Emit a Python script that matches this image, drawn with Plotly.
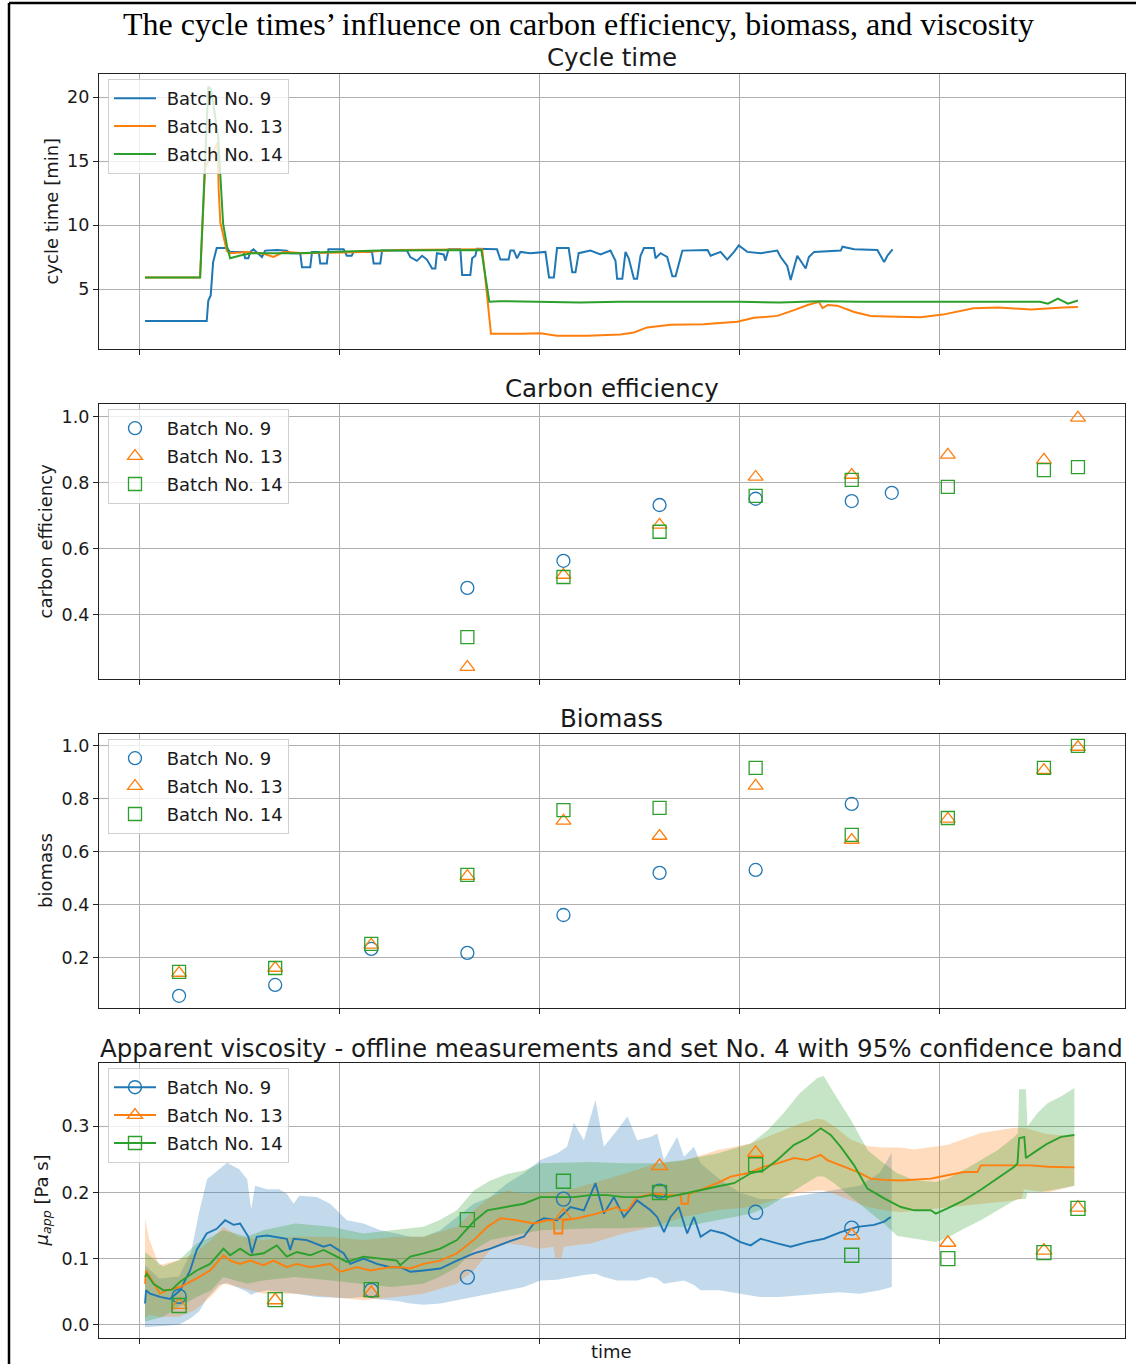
import plotly.graph_objects as go

W, H = 1136, 1364

# ---------------- data ----------------
batches = ["Batch No. 9", "Batch No. 13", "Batch No. 14"]
colors = ["#1f77b4", "#ff7f0e", "#2ca02c"]
fills = ["rgba(31,119,180,0.27)", "rgba(255,127,14,0.27)", "rgba(44,160,44,0.27)"]
symbols = ["circle-open", "triangle-up-open", "square-open"]

# cycle time [min]  (time [h], value)
ct9 = [(1.5, 2.5), (16.9, 2.5), (17.3, 4.1), (17.9, 4.5), (18.5, 7.1), (19.4, 8.2), (21.9, 8.2),
       (22.75, 7.9), (26.1, 7.9), (26.5, 7.4), (27.3, 7.4), (27.75, 7.9), (28.6, 8.1), (30.7, 7.5),
       (31.5, 8.0), (34.4, 8.05), (36.9, 8.0), (37.75, 7.8), (40.25, 7.8), (40.7, 6.7), (42.75, 6.7),
       (43.2, 7.9), (44.9, 7.9), (45.25, 7.0), (46.9, 7.0), (47.3, 8.1), (51.1, 8.1), (51.9, 7.6),
       (53.1, 7.6), (53.6, 7.9), (58.2, 7.9), (58.6, 7.0), (60.25, 7.0), (60.7, 8.0), (66.9, 8.0),
       (67.75, 7.5), (69.4, 7.2), (70.7, 7.6), (71.9, 7.3), (73.2, 6.6), (74.0, 6.6), (74.4, 7.8),
       (76.1, 7.7), (76.5, 7.2), (77.3, 8.1), (80.25, 8.1), (80.7, 6.1), (82.75, 6.1), (83.2, 7.4),
       (84.0, 7.6), (84.4, 8.15), (89.4, 8.1), (90.25, 7.3), (92.3, 7.3), (92.75, 8.0), (93.6, 8.0),
       (94.4, 7.4), (95.25, 7.9), (97.75, 7.8), (100.25, 7.9), (101.5, 7.9), (102.4, 5.9), (103.6, 5.9),
       (104.4, 8.2), (107.3, 8.2), (108.2, 6.3), (109.0, 6.3), (109.8, 7.8), (112.75, 8.0), (115.25, 7.7),
       (117.75, 8.0), (119.0, 7.2), (119.4, 5.8), (120.7, 5.8), (121.5, 7.9), (122.3, 7.4), (123.6, 5.8),
       (124.4, 5.8), (125.25, 7.6), (126.1, 8.2), (128.6, 8.2), (129.0, 7.4), (130.25, 7.8), (131.9, 7.5),
       (133.2, 6.0), (134.0, 6.0), (135.7, 8.0), (142.0, 8.05), (142.75, 7.6), (145.25, 7.9), (146.9, 7.3),
       (148.6, 7.9), (149.8, 8.4), (151.9, 7.9), (155.25, 7.8), (159.4, 8.0), (160.25, 7.5), (161.9, 6.8),
       (162.75, 5.7), (163.6, 6.7), (164.4, 7.6), (166.5, 6.6), (167.3, 7.5), (168.6, 7.9), (175.25, 8.0),
       (175.7, 8.3), (178.6, 8.1), (184.4, 8.05), (185.7, 7.4), (186.1, 7.1), (186.9, 7.6), (188.2, 8.1)]
ct13 = [(1.5, 5.9), (15.25, 5.9), (16.5, 14.5), (18.5, 15.8), (19.6, 16.4), (19.9, 12.7), (20.3, 10.2),
        (21.9, 8.0), (22.75, 7.8), (26.9, 7.9), (31.1, 7.75), (33.6, 7.5), (36.1, 7.9), (41.1, 7.8),
        (47.75, 7.85), (56.1, 7.9), (64.4, 8.05), (72.75, 8.05), (81.1, 8.05), (85.7, 8.1), (86.1, 7.0),
        (87.3, 3.0), (87.9, 1.5), (95.25, 1.5), (100.25, 1.55), (104.4, 1.35), (112.0, 1.35),
        (120.25, 1.45), (123.6, 1.6), (126.9, 2.0), (132.75, 2.2), (141.0, 2.25), (145.25, 2.35),
        (149.4, 2.45), (153.6, 2.75), (159.4, 2.9), (163.6, 3.35), (167.0, 3.75), (169.8, 4.0),
        (170.7, 3.5), (172.0, 3.75), (174.4, 3.7), (178.6, 3.2), (182.75, 2.9), (186.9, 2.85),
        (195.25, 2.8), (200.75, 3.0), (208.4, 3.5), (214.5, 3.55), (222.75, 3.4), (230.75, 3.55),
        (234.5, 3.6)]
ct14 = [(1.5, 5.9), (15.25, 5.9), (17.3, 20.8), (18.0, 20.6), (19.75, 16.9), (21.0, 10.1), (22.0, 8.3),
        (22.75, 7.4), (25.0, 7.6), (28.0, 7.8), (40.0, 7.8), (47.5, 7.9), (60.0, 8.0), (85.5, 8.05),
        (86.0, 7.0), (87.5, 4.0), (90.0, 4.05), (100.0, 4.0), (110.0, 3.95), (120.0, 4.0), (130.0, 4.0),
        (140.0, 4.05), (150.0, 4.0), (160.0, 3.95), (170.0, 4.05), (180.0, 4.0), (190.0, 4.0),
        (200.0, 4.0), (210.0, 4.0), (220.0, 3.95), (225.0, 4.0), (227.0, 3.85), (229.5, 4.25),
        (232.0, 3.85), (234.5, 4.1)]

# carbon efficiency
ce9 = [(82, 0.482), (106, 0.564), (130, 0.733), (154, 0.752), (178, 0.745), (188, 0.770)]
ce13 = [(82, 0.242), (106, 0.521), (130, 0.673), (154, 0.818), (178, 0.824), (202, 0.885),
        (226, 0.870), (234.5, 0.997)]
ce14 = [(82, 0.333), (106, 0.515), (130, 0.652), (154, 0.761), (178, 0.809), (202, 0.788),
        (226, 0.839), (234.5, 0.848)]

# biomass
bm9 = [(10, 0.057), (34, 0.098), (58, 0.234), (82, 0.219), (106, 0.362), (130, 0.521), (154, 0.532),
       (178, 0.781)]
bm13 = [(10, 0.143), (34, 0.162), (58, 0.249), (82, 0.509), (106, 0.717), (130, 0.660), (154, 0.849),
        (178, 0.645), (202, 0.725), (226, 0.909), (234.5, 0.996)]
bm14 = [(10, 0.147), (34, 0.162), (58, 0.253), (82, 0.513), (106, 0.758), (130, 0.766), (154, 0.917),
        (178, 0.664), (202, 0.728), (226, 0.917), (234.5, 1.0)]

# apparent viscosity: offline measurements
vm9 = [(10, 0.043), (58, 0.052), (82, 0.072), (106, 0.19), (130, 0.202), (154, 0.17), (178, 0.146)]
vm13 = [(10, 0.03), (34, 0.037), (58, 0.048), (106, 0.165), (130, 0.24), (154, 0.26), (178, 0.135),
        (202, 0.124), (226, 0.112), (234.5, 0.177)]
vm14 = [(10, 0.029), (34, 0.038), (58, 0.053), (82, 0.159), (106, 0.217), (130, 0.2), (154, 0.242),
        (178, 0.105), (202, 0.1), (226, 0.109), (234.5, 0.176)]

# apparent viscosity: set No. 4 prediction (time, mean)
vp9 = [(1.5, 0.032), (1.75, 0.052), (2.75, 0.047), (5.25, 0.042), (7.75, 0.039), (10.25, 0.052),
       (12.75, 0.082), (14.4, 0.113), (16.9, 0.138), (19.4, 0.145), (21.5, 0.158), (23.6, 0.151),
       (25.25, 0.153), (27.3, 0.133), (28.2, 0.108), (29.4, 0.133), (31.9, 0.135), (34.4, 0.133),
       (36.9, 0.130), (37.75, 0.113), (38.6, 0.130), (41.9, 0.128), (46.1, 0.118), (47.75, 0.121),
       (51.1, 0.108), (52.75, 0.092), (56.1, 0.1), (59.4, 0.092), (62.75, 0.087), (65.25, 0.087),
       (67.75, 0.080), (71.1, 0.082), (75.25, 0.085), (79.4, 0.097), (83.6, 0.108), (87.75, 0.115),
       (92.0, 0.125), (96.1, 0.133), (98.6, 0.153), (101.1, 0.161), (104.4, 0.158), (107.75, 0.178),
       (111.1, 0.173), (114.0, 0.214), (116.1, 0.168), (118.6, 0.193), (121.1, 0.163), (124.4, 0.188),
       (127.75, 0.173), (129.4, 0.163), (131.1, 0.140), (132.75, 0.163), (134.8, 0.178), (136.9, 0.138),
       (138.6, 0.163), (140.25, 0.133), (142.75, 0.143), (146.1, 0.138), (150.25, 0.125),
       (152.75, 0.120), (155.25, 0.130), (159.4, 0.123), (162.75, 0.118), (166.9, 0.125),
       (171.1, 0.130), (175.25, 0.140), (179.4, 0.148), (183.6, 0.151), (186.1, 0.156), (187.75, 0.163)]
vp13 = [(1.5, 0.062), (1.75, 0.082), (2.75, 0.072), (5.25, 0.047), (6.9, 0.052), (10.25, 0.057),
        (14.4, 0.07), (17.75, 0.082), (21.1, 0.105), (22.75, 0.097), (25.25, 0.092), (27.75, 0.097),
        (31.1, 0.09), (33.6, 0.097), (36.9, 0.087), (39.4, 0.092), (42.75, 0.087), (47.75, 0.092),
        (50.25, 0.08), (54.4, 0.087), (57.75, 0.082), (62.75, 0.087), (65.25, 0.087), (67.75, 0.085),
        (71.1, 0.092), (75.25, 0.097), (79.4, 0.108), (83.6, 0.128), (87.0, 0.148), (90.25, 0.161),
        (94.4, 0.158), (98.6, 0.153), (101.9, 0.158), (103.6, 0.158), (103.75, 0.138), (105.7, 0.138),
        (105.9, 0.158), (109.4, 0.161), (114.4, 0.168), (119.4, 0.178), (120.25, 0.173), (122.0, 0.173),
        (124.4, 0.193), (128.6, 0.198), (132.75, 0.196), (135.25, 0.196), (135.5, 0.183), (137.1, 0.183),
        (137.3, 0.198), (140.25, 0.204), (144.4, 0.214), (147.75, 0.224), (151.9, 0.229), (156.1, 0.239),
        (159.4, 0.244), (163.6, 0.252), (166.9, 0.249), (170.25, 0.257), (171.9, 0.249), (175.25, 0.241),
        (179.4, 0.231), (182.75, 0.221), (186.1, 0.219), (190.25, 0.218), (193.6, 0.219), (197.75, 0.221),
        (201.9, 0.226), (206.0, 0.231), (209.4, 0.231), (210.25, 0.241), (214.4, 0.241), (218.6, 0.241),
        (222.75, 0.241), (226.9, 0.239), (233.6, 0.238)]
vp14 = [(1.5, 0.072), (1.9, 0.077), (3.6, 0.062), (6.1, 0.052), (8.2, 0.053), (10.25, 0.065),
        (14.4, 0.082), (17.75, 0.092), (21.1, 0.115), (22.75, 0.105), (25.25, 0.115), (27.75, 0.105),
        (31.1, 0.108), (34.4, 0.12), (36.9, 0.103), (39.4, 0.11), (42.75, 0.105), (46.1, 0.113),
        (49.4, 0.103), (51.9, 0.095), (56.1, 0.103), (60.25, 0.1), (64.4, 0.097), (65.25, 0.09),
        (67.75, 0.103), (71.1, 0.108), (75.25, 0.115), (79.4, 0.128), (83.6, 0.156), (87.0, 0.173),
        (92.0, 0.178), (96.1, 0.183), (100.25, 0.193), (104.4, 0.193), (108.6, 0.193), (112.75, 0.196),
        (116.9, 0.196), (121.1, 0.193), (125.25, 0.193), (127.75, 0.196), (131.9, 0.193), (136.1, 0.198),
        (140.25, 0.204), (144.4, 0.209), (148.6, 0.214), (152.75, 0.229), (156.1, 0.234), (159.4, 0.249),
        (163.6, 0.272), (166.9, 0.282), (170.25, 0.297), (172.75, 0.287), (175.25, 0.269), (178.6, 0.241),
        (181.9, 0.206), (186.1, 0.191), (190.25, 0.178), (193.6, 0.173), (197.75, 0.173), (199.0, 0.168),
        (201.9, 0.176), (206.0, 0.188), (210.25, 0.204), (214.4, 0.221), (218.6, 0.239), (219.4, 0.244),
        (219.8, 0.282), (221.1, 0.284), (221.5, 0.252), (224.4, 0.264), (226.9, 0.274), (230.25, 0.284),
        (233.6, 0.287)]

# 95% confidence bands (time, upper, lower)
vb9 = [(1.5, 0.09, -0.004), (5, 0.07, -0.002), (10, 0.073, 0.0), (13, 0.11, 0.01), (15, 0.17, 0.02),
       (17, 0.22, 0.04), (20, 0.235, 0.06), (22, 0.245, 0.063), (25, 0.235, 0.055), (27, 0.22, 0.05),
       (28, 0.175, 0.045), (29, 0.21, 0.048), (32, 0.205, 0.052), (35, 0.205, 0.05), (36.9, 0.198, 0.048),
       (38.6, 0.183, 0.047), (40, 0.195, 0.046), (44.4, 0.193, 0.042), (47.75, 0.183, 0.041),
       (51.9, 0.158, 0.04), (56.1, 0.153, 0.042), (60.25, 0.143, 0.038), (64.4, 0.138, 0.036),
       (67.75, 0.133, 0.032), (71.1, 0.133, 0.030), (75.25, 0.143, 0.032), (79.4, 0.163, 0.037),
       (83.6, 0.183, 0.042), (87.75, 0.193, 0.047), (92.0, 0.214, 0.052), (96.1, 0.229, 0.057),
       (100.25, 0.249, 0.067), (104.4, 0.259, 0.068), (106.9, 0.269, 0.07), (108.6, 0.305, 0.072),
       (111.1, 0.279, 0.075), (114.0, 0.34, 0.077), (116.1, 0.269, 0.072), (119.4, 0.294, 0.067),
       (122.0, 0.315, 0.067), (124.4, 0.279, 0.067), (127.75, 0.284, 0.072), (129.4, 0.289, 0.07),
       (131.1, 0.249, 0.062), (134.4, 0.284, 0.065), (136.1, 0.254, 0.067), (138.6, 0.269, 0.06),
       (140.25, 0.244, 0.052), (145, 0.22, 0.052), (150, 0.2, 0.047), (155, 0.19, 0.042), (160, 0.19, 0.042),
       (165, 0.195, 0.045), (170, 0.2, 0.047), (175, 0.205, 0.049), (180, 0.21, 0.047), (185, 0.23, 0.052),
       (188, 0.26, 0.057)]
vb13 = [(1.5, 0.16, 0.01), (2.5, 0.13, 0.015), (5, 0.09, 0.012), (10, 0.098, 0.012), (14, 0.108, 0.022),
        (18, 0.128, 0.043), (21, 0.148, 0.062), (25, 0.133, 0.057), (31, 0.128, 0.047), (39, 0.133, 0.047),
        (48, 0.133, 0.042), (56, 0.128, 0.037), (64, 0.133, 0.042), (71, 0.133, 0.047), (79.4, 0.148, 0.062),
        (83.6, 0.173, 0.082), (87.75, 0.193, 0.113), (92, 0.203, 0.123), (96, 0.198, 0.12), (100, 0.2, 0.115),
        (103.5, 0.202, 0.118), (104, 0.202, 0.1), (105.5, 0.202, 0.1), (106, 0.202, 0.118),
        (112.75, 0.213, 0.123), (121, 0.228, 0.138), (128.6, 0.243, 0.148), (136, 0.248, 0.163),
        (144.4, 0.264, 0.173), (152.75, 0.274, 0.178), (161, 0.294, 0.193), (165, 0.304, 0.2),
        (169.4, 0.312, 0.203), (171, 0.31, 0.203), (173.6, 0.3, 0.198), (177.75, 0.28, 0.188),
        (182, 0.27, 0.178), (186, 0.268, 0.173), (190.25, 0.268, 0.17), (193.6, 0.265, 0.173),
        (202, 0.272, 0.178), (210.25, 0.29, 0.183), (218.6, 0.298, 0.188), (220.5, 0.298, 0.19),
        (221, 0.298, 0.205), (226.9, 0.288, 0.2), (233.6, 0.285, 0.21)]
vb14 = [(1.5, 0.11, 0.005), (6, 0.088, 0.012), (10, 0.098, 0.027), (14.4, 0.123, 0.042), (18, 0.133, 0.052),
        (21, 0.143, 0.072), (27, 0.133, 0.062), (31, 0.143, 0.067), (39, 0.153, 0.072), (48, 0.148, 0.067),
        (56, 0.138, 0.062), (63, 0.143, 0.057), (71, 0.148, 0.062), (75, 0.158, 0.072), (79.4, 0.173, 0.087),
        (83.6, 0.203, 0.113), (87.75, 0.218, 0.128), (92, 0.228, 0.133), (96, 0.233, 0.138),
        (100.25, 0.244, 0.143), (112.75, 0.246, 0.146), (121, 0.244, 0.146), (129.4, 0.244, 0.148),
        (136, 0.249, 0.148), (144.4, 0.259, 0.158), (152.75, 0.274, 0.168), (157, 0.294, 0.178),
        (161, 0.32, 0.193), (165, 0.35, 0.208), (169.4, 0.373, 0.224), (171, 0.376, 0.224),
        (173.6, 0.35, 0.214), (177.75, 0.31, 0.193), (182, 0.264, 0.173), (186, 0.244, 0.153),
        (189.4, 0.229, 0.134), (193.6, 0.219, 0.13), (199, 0.216, 0.125), (202, 0.221, 0.132),
        (206, 0.234, 0.145), (210.25, 0.249, 0.158), (214.4, 0.264, 0.173), (218.6, 0.284, 0.188),
        (219.5, 0.29, 0.19), (219.8, 0.356, 0.19), (221.5, 0.356, 0.19), (221.9, 0.3, 0.2),
        (224.4, 0.32, 0.2), (226.9, 0.335, 0.203), (230.25, 0.345, 0.206), (233.6, 0.358, 0.21)]

x_ticks = [0, 50, 100, 150, 200]

# ---------------- figure ----------------
FONT = "DejaVu Sans"
TXT = "#1a1a1a"


def col(pairs, i):
    return [p[i] for p in pairs]


fig = go.Figure()

# panel geometry (pixels)
X0, X1 = 99, 1125
panels = [(74, 349), (404, 679), (734, 1008), (1063, 1338)]
yranges = [[0.3125, 21.8], [0.206, 1.039], [0.011, 1.045], [-0.0201, 0.3958]]
ytickvals = [[5, 10, 15, 20], [0.4, 0.6, 0.8, 1.0], [0.2, 0.4, 0.6, 0.8, 1.0], [0.0, 0.1, 0.2, 0.3]]

ax_common = dict(showgrid=True, gridcolor="#b0b0b0", gridwidth=1, zeroline=False,
                 showline=True, linecolor="#222222", linewidth=1.3, mirror=True,
                 ticks="outside", ticklen=5, tickwidth=1.2, tickcolor="#222222",
                 tickfont=dict(family=FONT, size=17.5, color=TXT))

layout = dict(width=W, height=H, margin=dict(l=0, r=0, t=0, b=0),
              paper_bgcolor="white", plot_bgcolor="white", showlegend=True)

for k, (top, bot) in enumerate(panels):
    sfx = "" if k == 0 else str(k + 1)
    layout["xaxis" + sfx] = dict(ax_common, domain=[X0 / W, X1 / W], range=[-10, 246.25],
                                 tickvals=x_ticks, showticklabels=False,
                                 anchor="y" + sfx)
    layout["yaxis" + sfx] = dict(ax_common, domain=[1 - bot / H, 1 - top / H], range=yranges[k],
                                 tickvals=ytickvals[k], anchor="x" + sfx,
                                 tickformat=".1f" if k > 0 else "d")

NB = "\u00a0"

# panel 1: cycle time lines
for i, (data, name, c) in enumerate(zip([ct9, ct13, ct14], batches, colors)):
    fig.add_trace(go.Scatter(x=col(data, 0), y=col(data, 1), mode="lines", name=NB + name,
                             line=dict(color=c, width=2), legend="legend", legendgroup="a%d" % i,
                             xaxis="x", yaxis="y"))

# panel 2: carbon efficiency
for i, (data, name, c, s) in enumerate(zip([ce9, ce13, ce14], batches, colors, symbols)):
    fig.add_trace(go.Scatter(x=col(data, 0), y=col(data, 1), mode="markers", name=NB + name,
                             marker=dict(symbol=s, color=c, size=13, line=dict(width=1.3, color=c)),
                             legend="legend2", legendgroup="b%d" % i, xaxis="x2", yaxis="y2"))

# panel 3: biomass
for i, (data, name, c, s) in enumerate(zip([bm9, bm13, bm14], batches, colors, symbols)):
    fig.add_trace(go.Scatter(x=col(data, 0), y=col(data, 1), mode="markers", name=NB + name,
                             marker=dict(symbol=s, color=c, size=13, line=dict(width=1.3, color=c)),
                             legend="legend3", legendgroup="c%d" % i, xaxis="x3", yaxis="y3"))

# panel 4: bands
for band, f in zip([vb9, vb13, vb14], fills):
    t = col(band, 0)
    up = col(band, 1)
    lo = col(band, 2)
    fig.add_trace(go.Scatter(x=t + t[::-1], y=up + lo[::-1], fill="toself", fillcolor=f,
                             line=dict(width=0), mode="lines", hoverinfo="skip",
                             showlegend=False, xaxis="x4", yaxis="y4"))
# panel 4: prediction lines
for data, c in zip([vp9, vp13, vp14], colors):
    fig.add_trace(go.Scatter(x=col(data, 0), y=col(data, 1), mode="lines",
                             line=dict(color=c, width=1.9), showlegend=False,
                             xaxis="x4", yaxis="y4"))
# panel 4: measurements
for data, c, s in zip([vm9, vm13, vm14], colors, symbols):
    fig.add_trace(go.Scatter(x=col(data, 0), y=col(data, 1), mode="markers",
                             marker=dict(symbol=s, color=c, size=14, line=dict(width=1.4, color=c)),
                             showlegend=False, xaxis="x4", yaxis="y4"))
# panel 4: legend entries (line + marker)
for i, (name, c, s) in enumerate(zip(batches, colors, symbols)):
    fig.add_trace(go.Scatter(x=[None], y=[None], mode="lines+markers", name=NB + name,
                             line=dict(color=c, width=2),
                             marker=dict(symbol=s, color=c, size=13, line=dict(width=1.4, color=c)),
                             legend="legend4", legendgroup="d%d" % i, xaxis="x4", yaxis="y4"))

leg_common = dict(xanchor="left", yanchor="top", bgcolor="rgba(255,255,255,0.8)",
                  bordercolor="#d0d0d0", borderwidth=1, itemwidth=42,
                  traceorder="grouped", tracegroupgap=1.5,
                  font=dict(family=FONT, size=18, color=TXT))
for k, (top, bot) in enumerate(panels):
    key = "legend" if k == 0 else "legend" + str(k + 1)
    layout[key] = dict(leg_common, x=108 / W, y=1 - (top + 5) / H)

# titles
ann = []
ann.append(dict(text="The cycle times’ influence on carbon efficiency, biomass, and viscosity",
                x=578 / W, y=1 - 24 / H, xref="paper", yref="paper", showarrow=False,
                xanchor="center", yanchor="middle",
                font=dict(family="Liberation Serif", size=32, color="black")))
sub_titles = ["Cycle time", "Carbon efficiency", "Biomass",
              "Apparent viscosity - offline measurements and set No. 4 with 95% confidence band"]
sub_y = [58, 389, 718, 1048]
for t, yy in zip(sub_titles, sub_y):
    ann.append(dict(text=t, x=(X0 + X1) / 2 / W, y=1 - yy / H, xref="paper", yref="paper",
                    showarrow=False, xanchor="center", yanchor="middle",
                    font=dict(family=FONT, size=24.5, color=TXT)))
ylabels = ["cycle time [min]", "carbon efficiency", "biomass", "<i>μ</i><sub><i>app</i></sub> [Pa s]"]
ylab_x = [51, 45, 45, 42]
for k, (lab, xx) in enumerate(zip(ylabels, ylab_x)):
    top, bot = panels[k]
    ann.append(dict(text=lab, x=xx / W, y=1 - (top + bot) / 2 / H, xref="paper", yref="paper",
                    showarrow=False, xanchor="center", yanchor="middle", textangle=-90,
                    font=dict(family=FONT, size=18, color=TXT)))
ann.append(dict(text="time", x=(X0 + X1) / 2 / W, y=1 - 1351 / H, xref="paper", yref="paper",
                showarrow=False, xanchor="center", yanchor="middle",
                font=dict(family=FONT, size=18, color=TXT)))
layout["annotations"] = ann

# page frame lines
layout["shapes"] = [
    dict(type="line", xref="paper", yref="paper", x0=9 / W, x1=9 / W, y0=0, y1=1 - 3 / H,
         line=dict(color="black", width=2.5)),
    dict(type="line", xref="paper", yref="paper", x0=9 / W, x1=1, y0=1 - 3 / H, y1=1 - 3 / H,
         line=dict(color="black", width=2.5)),
]

fig.update_layout(**layout)
fig.write_html("out.html", config={"displayModeBar": False},
               post_script="document.body.style.margin='0';"
                           "document.body.style.overflow='hidden';")
